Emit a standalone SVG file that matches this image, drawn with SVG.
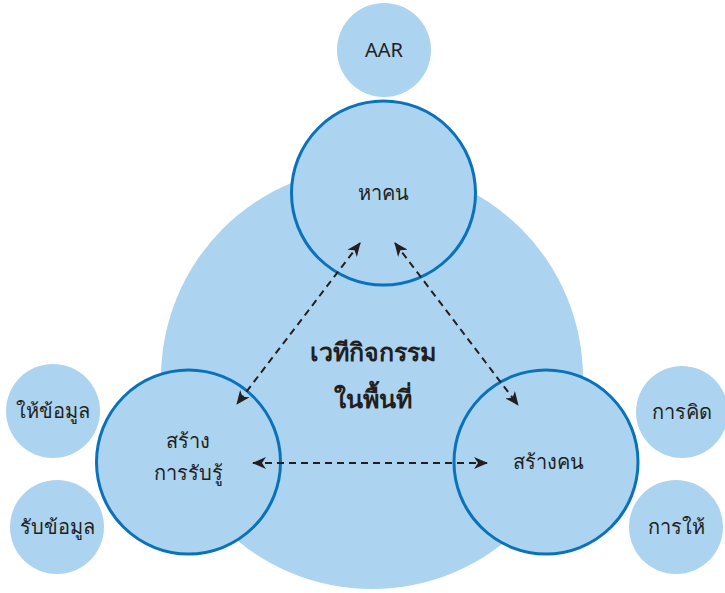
<svg xmlns="http://www.w3.org/2000/svg" width="725" height="593" viewBox="0 0 725 593">
<defs>
<style>
.bg{fill:#acd4f0}
.main{fill:#acd4f0;stroke:#0a72bb;stroke-width:3}
.small{fill:#acd4f0}
text{font-family:"Noto Sans","DejaVu Sans",sans-serif;fill:#231f20;text-anchor:middle}
.t{font-size:20px}
.c{font-size:25px;font-weight:bold}
.con{fill:none;stroke:#231f20;stroke-width:2;stroke-dasharray:7 5}
</style>
<marker id="ah" viewBox="0 0 14 12" refX="13" refY="6" markerWidth="14" markerHeight="12" markerUnits="userSpaceOnUse" orient="auto-start-reverse">
<path d="M0,0 L14,6 L0,12 L4,6 z" fill="#231f20"/>
</marker>
</defs>
<g id="activity">
<circle class="bg" cx="372" cy="378" r="211"/>
<text class="c" x="373" y="361">เวทีกิจกรรม</text>
<text class="c" x="373" y="408">ในพื้นที่</text>
</g>
<g id="aar">
<circle class="small" cx="384" cy="50" r="47"/>
<text class="t" x="384" y="57">AAR</text>
</g>
<g id="give-info">
<circle class="small" cx="53" cy="411" r="47"/>
<text class="t" x="53" y="418">ให้ข้อมูล</text>
</g>
<g id="receive-info">
<circle class="small" cx="57" cy="527" r="47"/>
<text class="t" x="57" y="534">รับข้อมูล</text>
</g>
<g id="think">
<circle class="small" cx="682" cy="412" r="46"/>
<text class="t" x="682" y="419">การคิด</text>
</g>
<g id="giving">
<circle class="small" cx="676" cy="527" r="47"/>
<text class="t" x="676" y="534">การให้</text>
</g>
<g id="find-people">
<circle class="main" cx="383.5" cy="193" r="92"/>
<text class="t" x="383" y="200">หาคน</text>
</g>
<g id="build-perception">
<circle class="main" cx="188.5" cy="462" r="92"/>
<text class="t" x="188" y="448">สร้าง</text>
<text class="t" x="188" y="480">การรับรู้</text>
</g>
<g id="build-people">
<circle class="main" cx="546" cy="462" r="92"/>
<text class="t" x="548" y="469">สร้างคน</text>
</g>
<g id="connectors">
<line class="con" x1="360" y1="243" x2="237" y2="404" marker-start="url(#ah)" marker-end="url(#ah)"/>
<line class="con" x1="395" y1="243" x2="518" y2="405" marker-start="url(#ah)" marker-end="url(#ah)"/>
<line class="con" x1="253" y1="463" x2="487" y2="463" marker-start="url(#ah)" marker-end="url(#ah)"/>
</g>
</svg>
